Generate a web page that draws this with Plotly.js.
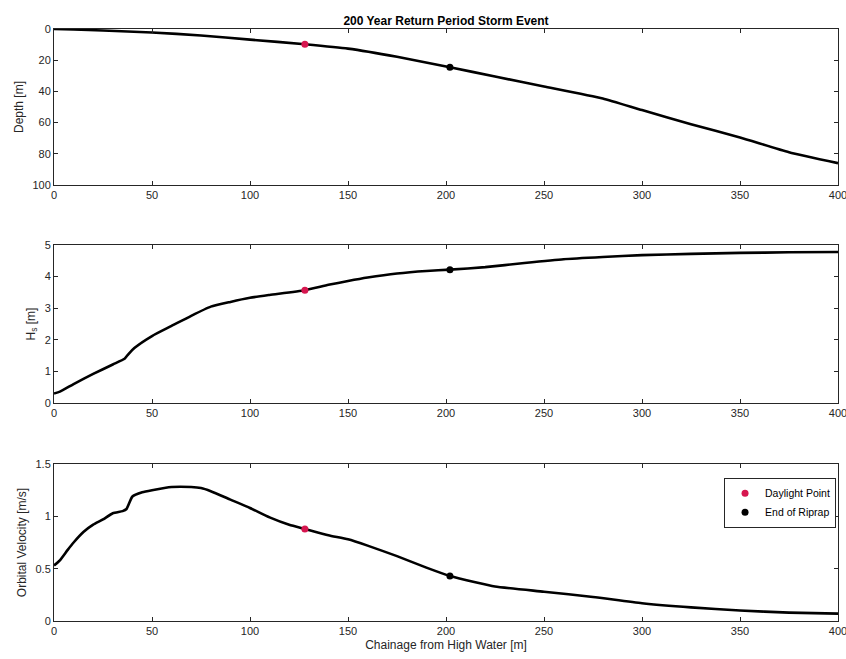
<!DOCTYPE html>
<html><head><meta charset="utf-8">
<script src="https://cdn.plot.ly/plotly-3.0.1.min.js"></script>
<style>html,body{margin:0;padding:0;background:#fff;}#chart{width:846px;height:659px;}</style>
</head><body><div id="chart"></div>
<script>
// Chainage [m]
const depthX = [0, 10, 25, 50, 75, 100, 128, 150, 175, 202, 225, 250, 280, 300, 325, 350, 375, 400];
const depthY = [0, 0.3, 1, 2.2, 4.2, 6.8, 9.8, 12.6, 17.8, 24.5, 30.5, 36.8, 44.5, 52, 61, 69.5, 79, 86];

const hsX = [0, 3, 10, 20, 30, 36, 38, 41, 50, 60, 70, 80, 90, 100, 110, 128, 140, 150, 160, 175, 190, 202, 220, 240, 260, 280, 300, 325, 350, 375, 400];
const hsY = [0.3, 0.36, 0.6, 0.92, 1.22, 1.4, 1.55, 1.74, 2.12, 2.44, 2.76, 3.05, 3.2, 3.33, 3.42, 3.57, 3.74, 3.86, 3.97, 4.1, 4.18, 4.22, 4.3, 4.43, 4.55, 4.62, 4.68, 4.72, 4.75, 4.77, 4.78];

const velX = [0, 3, 7, 10, 15, 20, 25, 30, 35, 37, 40, 45, 50, 60, 70, 75, 80, 90, 100, 110, 120, 128, 140, 150, 160, 175, 190, 202, 215, 225, 250, 275, 300, 325, 350, 375, 400];
const velY = [0.53, 0.58, 0.68, 0.75, 0.85, 0.92, 0.97, 1.03, 1.05, 1.07, 1.19, 1.23, 1.25, 1.28, 1.28, 1.27, 1.24, 1.16, 1.08, 0.99, 0.92, 0.88, 0.82, 0.78, 0.72, 0.62, 0.51, 0.43, 0.37, 0.33, 0.28, 0.23, 0.17, 0.13, 0.1, 0.08, 0.07];

// Marked points
const daylightX = 128;
const riprapX = 202;
const daylightVals = [9.8, 3.57, 0.88];  // depth, Hs, velocity
const riprapVals = [24.5, 4.22, 0.43];

const xTicks = [0, 50, 100, 150, 200, 250, 300, 350, 400];

const FONT = 'Liberation Sans Narrow, Liberation Sans, Arial, sans-serif';
const red = '#d6164f';
const lineStyle = {color: '#000000', width: 2.6, shape: 'spline', smoothing: 0.5};

const traces = [
  {x: depthX, y: depthY, xaxis: 'x', yaxis: 'y', mode: 'lines', line: lineStyle, showlegend: false},
  {x: hsX, y: hsY, xaxis: 'x2', yaxis: 'y2', mode: 'lines', line: lineStyle, showlegend: false},
  {x: velX, y: velY, xaxis: 'x3', yaxis: 'y3', mode: 'lines', line: lineStyle, showlegend: false},
  {x: [daylightX], y: [daylightVals[0]], xaxis: 'x', yaxis: 'y', mode: 'markers', marker: {color: red, size: 7}, showlegend: false},
  {x: [riprapX], y: [riprapVals[0]], xaxis: 'x', yaxis: 'y', mode: 'markers', marker: {color: '#000', size: 7}, showlegend: false},
  {x: [daylightX], y: [daylightVals[1]], xaxis: 'x2', yaxis: 'y2', mode: 'markers', marker: {color: red, size: 7}, showlegend: false},
  {x: [riprapX], y: [riprapVals[1]], xaxis: 'x2', yaxis: 'y2', mode: 'markers', marker: {color: '#000', size: 7}, showlegend: false},
  {x: [daylightX], y: [daylightVals[2]], xaxis: 'x3', yaxis: 'y3', mode: 'markers', marker: {color: red, size: 7}, name: 'Daylight Point'},
  {x: [riprapX], y: [riprapVals[2]], xaxis: 'x3', yaxis: 'y3', mode: 'markers', marker: {color: '#000', size: 7}, name: 'End of Riprap'}
];

function xax(anchor, title) {
  const a = {
    range: [0, 400], tickvals: xTicks, ticks: 'inside', ticklen: 4, tickcolor: '#262626',
    showline: true, linecolor: '#262626', linewidth: 1, mirror: 'ticks', showgrid: false, zeroline: false,
    ticklabeloverflow: 'allow',
    anchor: anchor, tickfont: {size: 11, color: '#262626', family: FONT}, domain: [0, 1]
  };
  if (title) a.title = {text: title, font: {size: 12, color: '#262626', family: FONT}, standoff: 4};
  return a;
}
function yax(anchor, domain, range, dtick, title) {
  return {
    range: range, dtick: dtick, domain: domain, anchor: anchor, ticks: 'inside', ticklen: 4, tickcolor: '#262626',
    showline: true, linecolor: '#262626', linewidth: 1, mirror: 'ticks', showgrid: false, zeroline: false,
    tickfont: {size: 11, color: '#262626', family: FONT},
    title: {text: title, font: {size: 12, color: '#262626', family: FONT}, standoff: 6}
  };
}

const layout = {
  width: 846, height: 659,
  margin: {l: 54, r: 8, t: 29, b: 38},
  paper_bgcolor: '#ffffff', plot_bgcolor: '#ffffff',
  font: {family: FONT, color: '#262626'},
  title: {text: '<b>200 Year Return Period Storm Event</b>', font: {size: 12, color: '#000', family: FONT},
          x: 0.5, xref: 'paper', xanchor: 'center', y: 1 - 21/659, yref: 'container', yanchor: 'middle'},
  xaxis: xax('y'),
  xaxis2: xax('y2'),
  xaxis3: xax('y3', 'Chainage from High Water [m]'),
  yaxis: yax('x', [0.7365, 1], [100, 0], 20, 'Depth [m]'),
  yaxis2: yax('x2', [0.3682, 0.6351], [0, 5], 1, 'H<sub>s</sub> [m]'),
  yaxis3: yax('x3', [0, 0.2652], [0, 1.5], 0.5, 'Orbital Velocity [m/s]'),
  showlegend: true,
  legend: {x: 0.9975, xanchor: 'right', y: 0.242, yanchor: 'top', bgcolor: '#fff',
           bordercolor: '#262626', borderwidth: 1, font: {size: 10.5, family: FONT, color: '#000'},
           tracegroupgap: 0, itemwidth: 30}
};

Plotly.newPlot('chart', traces, layout, {displayModeBar: false, staticPlot: true});
</script></body></html>
